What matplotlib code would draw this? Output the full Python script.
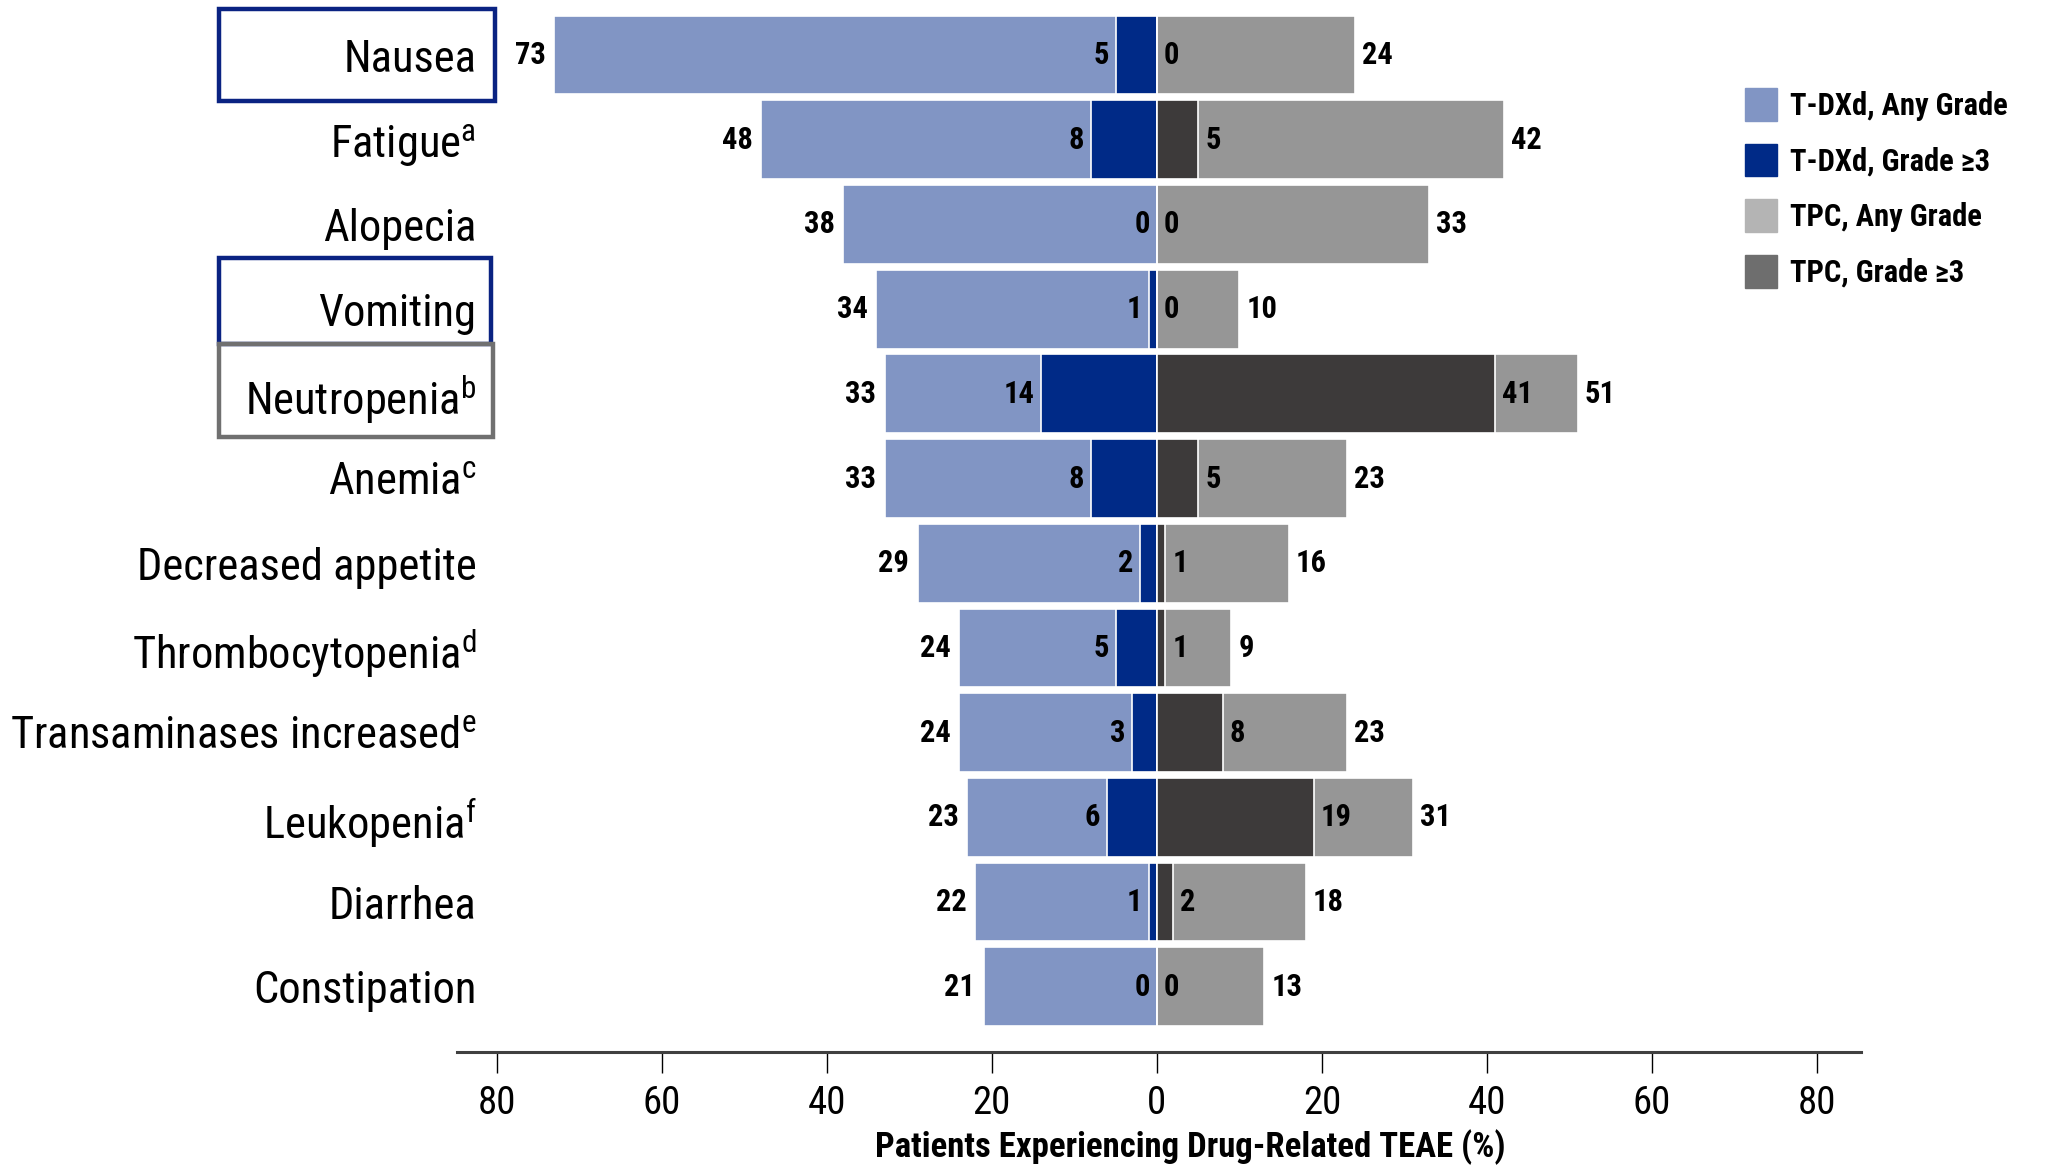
import numpy as np
import matplotlib
matplotlib.use("Agg")
import matplotlib.pyplot as plt
from matplotlib import font_manager
from matplotlib.patches import Rectangle, Patch
from matplotlib.transforms import blended_transform_factory

# pick a condensed sans if we have one (the slide uses Arial Narrow)
names = set(f.name for f in font_manager.fontManager.ttflist)
FONT = 'Liberation Sans'
for cand in ['Liberation Sans Narrow', 'Nimbus Sans Narrow', 'Roboto Condensed',
             'PT Sans Narrow', 'Archivo Narrow']:
    if cand in names:
        FONT = cand
        break
plt.rcParams['font.family'] = [FONT, 'DejaVu Sans']
plt.rcParams['mathtext.fontset'] = 'custom'
plt.rcParams['mathtext.rm'] = FONT

categories = ['Nausea', 'Fatigue', 'Alopecia', 'Vomiting', 'Neutropenia', 'Anemia',
              'Decreased appetite', 'Thrombocytopenia', 'Transaminases increased',
              'Leukopenia', 'Diarrhea', 'Constipation']
footnotes = ['', 'a', '', '', 'b', 'c', '', 'd', 'e', 'f', '', '']
tdxd_any = [73, 48, 38, 34, 33, 33, 29, 24, 24, 23, 22, 21]
tdxd_g3 = [5, 8, 0, 1, 14, 8, 2, 5, 3, 6, 1, 0]
tpc_any = [24, 42, 33, 10, 51, 23, 16, 9, 23, 31, 18, 13]
tpc_g3 = [0, 5, 0, 0, 41, 5, 1, 1, 8, 19, 2, 0]
ticks = [-80, -60, -40, -20, 0, 20, 40, 60, 80]

c_tany = '#8195c4'
c_tg3 = '#002a87'
c_pany = '#969696'
c_pg3 = '#3d3a3a'

W, H = 2057, 1165
fig = plt.figure(figsize=(W / 100, H / 100), dpi=100)
ax = fig.add_axes([457 / W, 1 - 1052 / H, (1861 - 457) / W, 1052 / H])

y = np.arange(len(categories))
h = 0.93
kw = dict(height=h, edgecolor='white', linewidth=1.2)
ax.barh(y, -np.array(tdxd_any), color=c_tany, **kw)
ax.barh(y, -np.array(tdxd_g3), color=c_tg3, **kw)
ax.barh(y, tpc_any, color=c_pany, **kw)
ax.barh(y, tpc_g3, color=c_pg3, **kw)

lab = dict(fontsize=22, fontweight='bold', va='center', color='black')
for i in range(len(categories)):
    ax.annotate(str(tdxd_any[i]), (-tdxd_any[i], i), xytext=(-6, 0),
                textcoords='offset points', ha='right', **lab)
    ax.annotate(str(tdxd_g3[i]), (-tdxd_g3[i], i), xytext=(-5, 0),
                textcoords='offset points', ha='right', **lab)
    ax.annotate(str(tpc_g3[i]), (tpc_g3[i], i), xytext=(5, 0),
                textcoords='offset points', ha='left', **lab)
    ax.annotate(str(tpc_any[i]), (tpc_any[i], i), xytext=(5, 0),
                textcoords='offset points', ha='left', **lab)

ax.set_xlim(-84.8, 85.3)
ax.set_ylim(11.77, -0.65)

labels = [c + (r'$^{\mathrm{%s}}$' % f if f else '') for c, f in zip(categories, footnotes)]
ax.set_yticks(y)
ax.set_yticklabels(labels, fontsize=32)
ax.tick_params(axis='y', length=0, pad=-14)

ax.set_xticks(ticks)
ax.set_xticklabels([str(abs(t)) for t in ticks], fontsize=28)
ax.tick_params(axis='x', direction='out', length=15, width=1, pad=9, color='black')

for s in ['top', 'right', 'left']:
    ax.spines[s].set_visible(False)
ax.spines['bottom'].set_color('#404040')
ax.spines['bottom'].set_linewidth(2.2)

ax.set_xlabel('Patients Experiencing Drug-Related TEAE (%)', fontsize=25,
              fontweight='bold')
ax.xaxis.set_label_coords(0.522, -0.073)

# highlight boxes around some labels
tr = blended_transform_factory(fig.transFigure, ax.transData)
boxes = [(0, -0.54, 0.54, '#0a2382', 495), (3, -0.6, 0.41, '#0a2382', 491),
         (4, -0.59, 0.51, '#707070', 493)]
for row, top, bot, col, xr in boxes:
    ax.add_patch(Rectangle((219 / W, row + top), (xr - 219) / W, bot - top,
                           transform=tr, fill=False, edgecolor=col,
                           linewidth=3.2, clip_on=False))

handles = [Patch(color='#8195c4', label='T-DXd, Any Grade'),
           Patch(color='#002a87', label='T-DXd, Grade \u22653'),
           Patch(color='#b4b4b4', label='TPC, Any Grade'),
           Patch(color='#6e6e6e', label='TPC, Grade \u22653')]
fig.legend(handles=handles, loc='upper left', bbox_to_anchor=(1745 / W, 1 - 88 / H),
           frameon=False, prop={'family': [FONT, 'DejaVu Sans'], 'weight': 'bold', 'size': 22},
           handlelength=1.05, handleheight=1.27, handletextpad=0.43, labelspacing=0.75,
           borderaxespad=0, borderpad=0)

fig.savefig('out.png', dpi=100)
